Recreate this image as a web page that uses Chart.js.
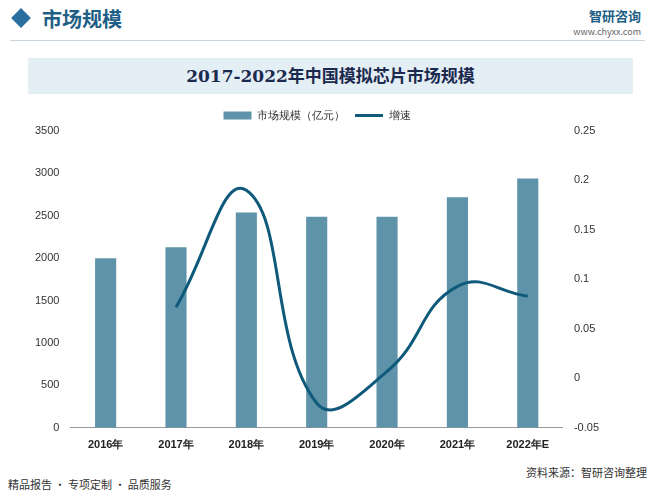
<!DOCTYPE html>
<html><head><meta charset="utf-8">
<script src="https://cdn.jsdelivr.net/npm/chart.js@4"></script>
<style>
body{margin:0;width:655px;height:497px;background:#fff;font-family:"Noto Sans CJK SC",sans-serif;position:relative;overflow:hidden}
#hdr{position:absolute;left:14px;top:4px;font-size:20px;font-weight:bold;color:#1f5f86}
#hdr span{display:inline-block;width:14px;height:14px;background:#2a6fa0;transform:rotate(45deg);margin-right:14px;vertical-align:2px}
#line{position:absolute;left:10px;right:10px;top:40px;border-top:1px solid #c9d6e0}
#logo{position:absolute;right:14px;top:6px;font-size:13px;color:#1f5f86;font-weight:bold;text-align:right}
#logo small{display:block;font-size:9px;font-weight:normal;color:#666}
#title{position:absolute;left:28px;width:605px;top:58px;height:36px;background:#e4eef5;text-align:center;line-height:36px;font-size:17px;font-weight:bold;color:#1b2a4e;font-family:"DejaVu Serif","Noto Sans CJK SC",serif}
#wrap{position:absolute;left:22px;top:100px;width:600px;height:355px}
#foot{position:absolute;left:8px;top:476px;font-size:11px;color:#333}
#src{position:absolute;right:8px;top:464px;font-size:11px;color:#333}
</style></head><body>
<div id="hdr"><span></span>市场规模</div>
<div id="line"></div>
<div id="logo">智研咨询<small>www.chyxx.com</small></div>
<div id="title">2017-2022年中国模拟芯片市场规模</div>
<div id="wrap"><canvas id="c"></canvas></div>
<div id="foot">精品报告 · 专项定制 · 品质服务</div>
<div id="src">资料来源：智研咨询整理</div>
<script>
const years = ['2016年','2017年','2018年','2019年','2020年','2021年','2022年E'];
const marketSize = [2000, 2130, 2540, 2490, 2490, 2720, 2940];
const growth = [null, 0.072, 0.19, -0.025, 0.007, 0.093, 0.083];

new Chart(document.getElementById('c'), {
    data: {
        labels: years,
        datasets: [
            { type: 'line', label: '增速', data: growth, yAxisID: 'y1', borderColor: '#0f5a7a', borderWidth: 3, pointRadius: 0, pointStyle: 'line', tension: 0.45, fill: false },
            { type: 'bar', label: '市场规模（亿元）', data: marketSize, yAxisID: 'y', backgroundColor: '#5f93a9', barPercentage: 0.3, categoryPercentage: 1, pointStyle: 'rect' }
        ]
    },
    options: {
        responsive: true, maintainAspectRatio: false, animation: false,
        layout: { padding: { left: 10, right: 20 } },
        plugins: {
            legend: { reverse: true, labels: { usePointStyle: true, pointStyleWidth: 28, boxHeight: 8, font: { size: 11 }, color: '#333' } },
            tooltip: { enabled: false }
        },
        scales: {
            x: { grid: { display: false }, border: { color: '#999' }, ticks: { color: '#222', font: { size: 11, weight: 'bold' } } },
            y: { min: 0, max: 3500, ticks: { stepSize: 500, color: '#333', font: { size: 11 }, callback: v => String(v) }, grid: { display: false }, border: { display: false } },
            y1: { position: 'right', min: -0.05, max: 0.25, ticks: { stepSize: 0.05, color: '#333', font: { size: 11 }, callback: v => Math.round(v * 100) / 100 }, grid: { display: false }, border: { display: false } }
        }
    }
});
</script>
</body></html>
